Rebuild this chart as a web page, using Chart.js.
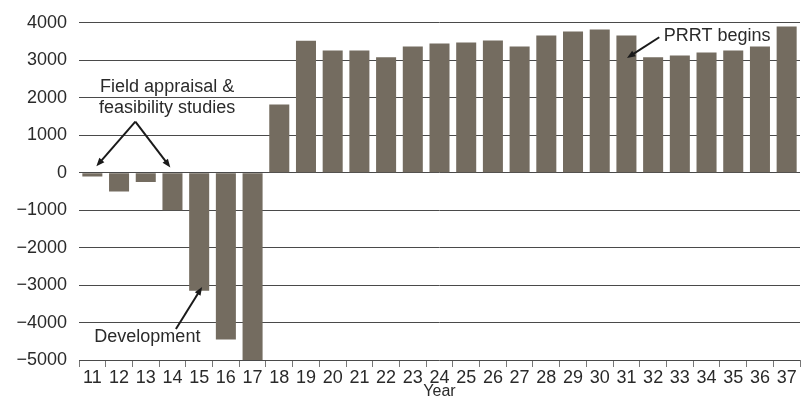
<!DOCTYPE html>
<html>
<head>
<meta charset="utf-8">
<script src="https://cdn.jsdelivr.net/npm/chart.js@4/dist/chart.umd.min.js"></script>
<style>
  html, body { margin: 0; padding: 0; background: #fff; }
  #wrap { width: 808px; height: 401px; }
</style>
</head>
<body>
<div id="wrap"><canvas id="grafico"></canvas></div>
<script>
const anos = ["11","12","13","14","15","16","17","18","19","20","21","22","23","24","25","26","27","28","29","30","31","32","33","34","35","36","37"];
const fluxo = [-100,-500,-250,-1000,-3150,-4450,-5000,1820,3520,3260,3260,3080,3370,3450,3475,3530,3370,3660,3770,3820,3660,3080,3130,3210,3260,3370,3900];
const ticksY = [4000,3000,2000,1000,0,-1000,-2000,-3000,-4000,-5000];

// notas: texto em coordenadas de dados (indice da categoria, valor)
const textos = [
  { linhas: ["Field appraisal &", "feasibility studies"], x: 2.8, y: [2280, 1725] },
  { linhas: ["Development"], x: 2.06, y: [-4400] },
  { linhas: ["PRRT begins"], x: 23.4, y: [3650] }
];
const setas = [
  { de: [1.61, 1360], para: [0.15, 170] },
  { de: [1.61, 1360], para: [2.92, 140] },
  { de: [3.13, -4172], para: [4.11, -3050] },
  { de: [21.23, 3615], para: [20.02, 3058] }
];

const fonte = "'Liberation Sans', Arial, sans-serif";

const notas = {
  id: "notas",
  afterDraw(chart) {
    const ctx = chart.ctx;
    const sx = chart.scales.x, sy = chart.scales.y;
    ctx.save();
    ctx.fillStyle = "#2a2a2a";
    ctx.font = "18px " + fonte;
    ctx.textAlign = "center";
    ctx.textBaseline = "middle";
    textos.forEach(t => {
      t.linhas.forEach((l, i) => {
        ctx.fillText(l, sx.getPixelForValue(t.x), sy.getPixelForValue(t.y[i]));
      });
    });
    ctx.strokeStyle = "#1a1a1a";
    ctx.fillStyle = "#1a1a1a";
    ctx.lineWidth = 2;
    setas.forEach(s => {
      const x1 = sx.getPixelForValue(s.de[0]), y1 = sy.getPixelForValue(s.de[1]);
      const x2 = sx.getPixelForValue(s.para[0]), y2 = sy.getPixelForValue(s.para[1]);
      const ang = Math.atan2(y2 - y1, x2 - x1);
      const tam = 9;
      ctx.beginPath();
      ctx.moveTo(x1, y1);
      ctx.lineTo(x2 - Math.cos(ang) * tam * 0.7, y2 - Math.sin(ang) * tam * 0.7);
      ctx.stroke();
      ctx.beginPath();
      ctx.moveTo(x2, y2);
      ctx.lineTo(x2 - tam * Math.cos(ang - 0.38), y2 - tam * Math.sin(ang - 0.38));
      ctx.lineTo(x2 - tam * Math.cos(ang + 0.38), y2 - tam * Math.sin(ang + 0.38));
      ctx.closePath();
      ctx.fill();
    });
    ctx.restore();
  }
};

new Chart(document.getElementById("grafico").getContext("2d"), {
  type: "bar",
  data: {
    labels: anos,
    datasets: [{
      data: fluxo,
      backgroundColor: "#746c60",
      barPercentage: 0.75,
      categoryPercentage: 1.0
    }]
  },
  options: {
    responsive: true,
    maintainAspectRatio: false,
    animation: false,
    layout: { padding: { top: 21, right: 8, left: 0, bottom: 0 } },
    plugins: { legend: { display: false }, tooltip: { enabled: false } },
    scales: {
      x: {
        offset: true,
        afterFit: (s) => { s.height = 41; },
        grid: { offset: true, drawOnChartArea: false, drawTicks: true, tickLength: 7, color: "#777" },
        border: { display: false },
        ticks: { color: "#2a2a2a", padding: 0, maxRotation: 0, autoSkip: false, font: { family: fonte, size: 18 } },
        title: { display: true, text: "Year", color: "#2a2a2a", padding: 0, font: { family: fonte, size: 16 } }
      },
      y: {
        min: -5000,
        max: 4000,
        afterFit: (s) => { s.width = 79; },
        afterBuildTicks: (s) => { s.ticks = ticksY.map(v => ({ value: v })); },
        grid: { drawTicks: false, color: "#4a4a4a", lineWidth: 1 },
        border: { display: false },
        ticks: {
          color: "#2a2a2a",
          padding: 12,
          font: { family: fonte, size: 18 },
          callback: (v) => v < 0 ? "\u2212" + Math.abs(v) : String(v)
        }
      }
    }
  },
  plugins: [notas]
});
</script>
</body>
</html>
